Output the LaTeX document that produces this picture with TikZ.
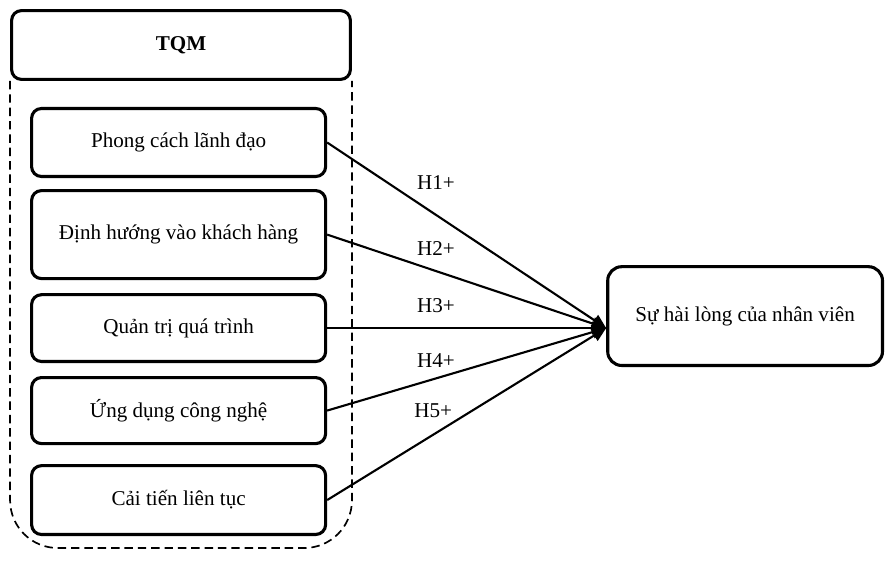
\documentclass[tikz,border=0pt]{standalone}
\usepackage{fontspec}
\setmainfont{Liberation Serif}
\usetikzlibrary{arrows.meta, positioning}
\tikzset{
  boxhead/.style={
    rectangle, rounded corners=7pt,
    draw=black, line width=2.2pt,
    font=\fontsize{15}{18}\selectfont\bfseries,
    minimum width=8.47cm, minimum height=1.72cm
  },
  boxfactor/.style={
    rectangle, rounded corners=7pt,
    draw=black, line width=2.2pt,
    font=\fontsize{15}{18}\selectfont,
    minimum width=7.35cm, inner sep=2pt
  },
  boxresult/.style={
    rectangle, rounded corners=10pt,
    draw=black, line width=2.2pt,
    font=\fontsize{15}{18}\selectfont,
    minimum width=6.87cm, minimum height=2.47cm
  },
  hlab/.style={font=\fontsize{15}{18}\selectfont, inner sep=1pt},
  link/.style={draw=black, line width=1.5pt, -{Triangle[length=10pt,width=9pt]}},
  group/.style={draw=black, line width=1.2pt, dash pattern=on 6pt off 3.5pt, rounded corners=34pt}
}
\begin{document}
\begin{tikzpicture}

  \useasboundingbox (0,0) rectangle (22.15,-14.425);

  \node[boxhead] (tqm) at (4.525,-1.125) {TQM};

  \node[boxfactor, minimum height=1.70cm, below=0.65cm of tqm, xshift=-0.06cm] (lead) {Phong cách lãnh đạo};
  \node[boxfactor, minimum height=2.20cm, below=0.275cm of lead] (cust) {Định hướng vào khách hàng};
  \node[boxfactor, minimum height=1.67cm, below=0.325cm of cust] (proc) {Quản trị quá trình};
  \node[boxfactor, minimum height=1.65cm, below=0.325cm of proc] (tech) {Ứng dụng công nghệ};
  \node[boxfactor, minimum height=1.72cm, below=0.475cm of tech] (impr) {Cải tiến liên tục};

  \node[boxresult, right=6.975cm of proc, yshift=0.3cm] (sat) {Sự hài lòng của nhân viên};

  % --- Khung nhóm TQM ---
  \coordinate[below=0.3cm of impr.south] (bot);
  \draw[group] (tqm.south west) -- (tqm.south west |- bot) -- (tqm.south east |- bot) -- (tqm.south east);

  % --- Giả thuyết ---
  \coordinate (hub) at (sat.west |- proc.east);
  \draw[link] (lead.east) -- node[hlab, pos=.39, yshift=0.8cm] (h1) {H1+} (hub);
  \draw[link] (cust.east) -- node[hlab, pos=.39, yshift=0.575cm] (h2) {H2+} (hub);
  \draw[link] (proc.east) -- node[hlab, pos=.39, yshift=0.55cm] (h3) {H3+} (hub);
  \draw[link] (tech.east) -- node[hlab, pos=.39, yshift=0.45cm] (h4) {H4+} (hub);
  \draw[link] (impr.east) -- node[hlab, pos=.38, yshift=0.6cm] (h5) {H5+} (hub);

\end{tikzpicture}
\end{document}
